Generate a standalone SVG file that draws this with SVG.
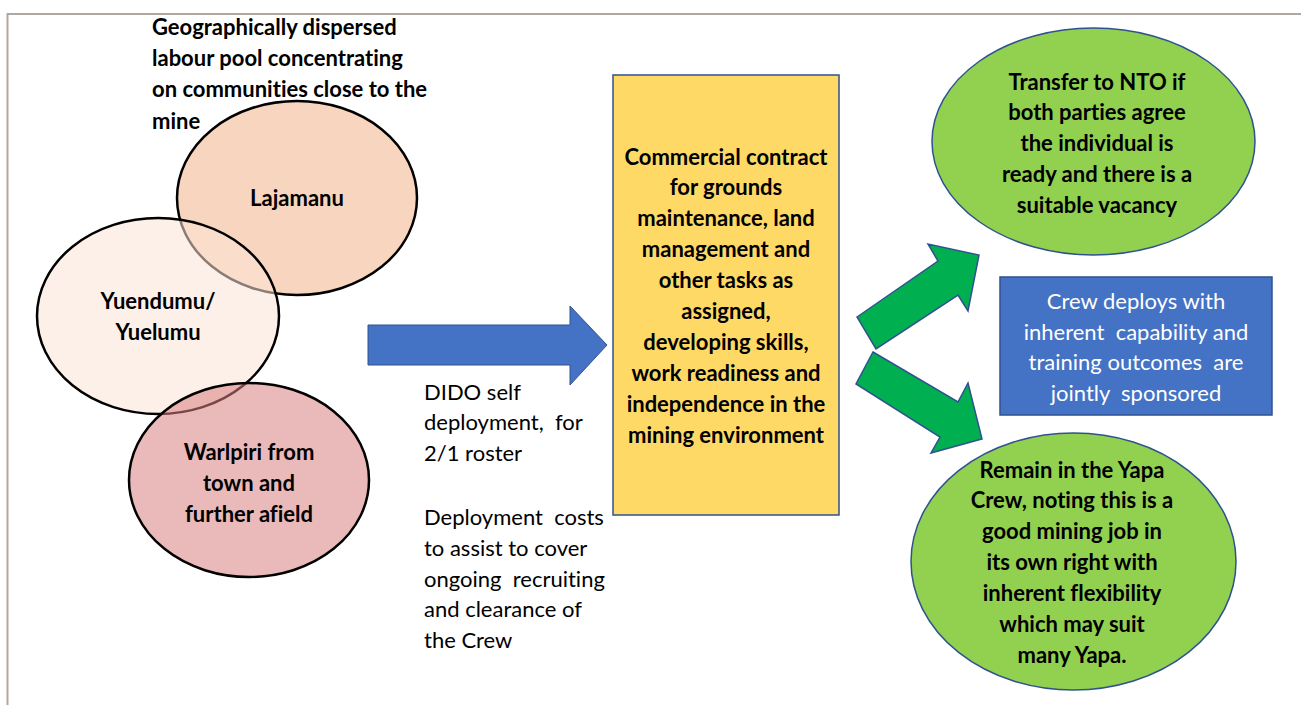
<svg xmlns="http://www.w3.org/2000/svg" width="1301" height="705" viewBox="0 0 1301 705">
<style>
text{font-family:Lato,"Liberation Sans",sans-serif;font-size:22px;font-variant-ligatures:none;white-space:pre}
.b{font-weight:bold;fill:#000;text-anchor:middle}
.bl{font-weight:bold;fill:#000}
.r{fill:#000}
.w{fill:#fff;text-anchor:middle}
.circ{stroke:#000;stroke-width:2.5}
.green{fill:#92D050;stroke:#2F528F;stroke-width:1.5}
.garrow{fill:#00B050;stroke:#2F528F;stroke-width:1.5}
</style>
<rect width="1301" height="705" fill="#fff"/>
<path d="M7.5,705 V14 H1301" fill="none" stroke="#AFA8A1" stroke-width="2"/>

<g id="title">
<text class="bl" x="152" y="35">Geographically dispersed</text>
<text class="bl" x="152" y="66">labour pool concentrating</text>
<text class="bl" x="152" y="97">on communities close to the</text>
<text class="bl" x="152" y="129">mine</text>
</g>

<g id="lajamanu">
<ellipse class="circ" cx="297" cy="198" rx="120" ry="97" fill="#F8D5BE"/>
<text class="b" x="297" y="206">Lajamanu</text>
</g>
<g id="yuendumu">
<ellipse class="circ" cx="158" cy="316" rx="121" ry="98" fill="#FCE4D6" fill-opacity="0.55"/>
<text class="b" x="158" y="309">Yuendumu/</text>
<text class="b" x="158" y="340">Yuelumu</text>
</g>
<g id="warlpiri">
<ellipse class="circ" cx="249" cy="480" rx="120" ry="97" fill="#D98080" fill-opacity="0.55"/>
<text class="b" x="249" y="460">Warlpiri from</text>
<text class="b" x="249" y="491">town and</text>
<text class="b" x="249" y="522">further afield</text>
</g>

<g id="connectors">
<polygon points="368,325 570,325 570,306 607,345 570,385 570,365 368,365" fill="#4472C4" stroke="#2F528F" stroke-width="1"/>
<polygon class="garrow" points="857,317 938,261 928,244 979,255 968,311 958,295 876,349"/>
<polygon class="garrow" points="873,352 958,402 968,383 982,439 931,453 940,437 856,384"/>
</g>

<g id="dido">
<text class="r" x="424" y="400">DIDO self</text>
<text class="r" x="424" y="430">deployment,  for</text>
<text class="r" x="424" y="461">2/1 roster</text>
<text class="r" x="424" y="525">Deployment  costs</text>
<text class="r" x="424" y="556">to assist to cover</text>
<text class="r" x="424" y="587">ongoing  recruiting</text>
<text class="r" x="424" y="617">and clearance of</text>
<text class="r" x="424" y="648">the Crew</text>
</g>

<g id="contract">
<rect x="613" y="75" width="226" height="440" fill="#FFD966" stroke="#2F528F" stroke-width="1.5"/>
<text class="b" x="726" y="165">Commercial contract</text>
<text class="b" x="726" y="195">for grounds</text>
<text class="b" x="726" y="226">maintenance, land</text>
<text class="b" x="726" y="257">management and</text>
<text class="b" x="726" y="288">other tasks as</text>
<text class="b" x="726" y="319">assigned,</text>
<text class="b" x="726" y="350">developing skills,</text>
<text class="b" x="726" y="381">work readiness and</text>
<text class="b" x="726" y="412">independence in the</text>
<text class="b" x="726" y="443">mining environment</text>
</g>

<g id="transfer">
<ellipse class="green" cx="1093.5" cy="141.5" rx="161.5" ry="113.5"/>
<text class="b" x="1097" y="90">Transfer to NTO if</text>
<text class="b" x="1097" y="120">both parties agree</text>
<text class="b" x="1097" y="151">the individual is</text>
<text class="b" x="1097" y="182">ready and there is a</text>
<text class="b" x="1097" y="213">suitable vacancy</text>
</g>

<g id="crew">
<rect x="1000" y="277" width="272" height="138" fill="#4472C4" stroke="#2F528F" stroke-width="1.5"/>
<text class="w" x="1136" y="309">Crew deploys with</text>
<text class="w" x="1136" y="340">inherent  capability and</text>
<text class="w" x="1136" y="370">training outcomes  are</text>
<text class="w" x="1136" y="401">jointly  sponsored</text>
</g>

<g id="remain">
<ellipse class="green" cx="1073.5" cy="561.5" rx="162.5" ry="128.5"/>
<text class="b" x="1072" y="478">Remain in the Yapa</text>
<text class="b" x="1072" y="508">Crew, noting this is a</text>
<text class="b" x="1072" y="539">good mining job in</text>
<text class="b" x="1072" y="570">its own right with</text>
<text class="b" x="1072" y="601">inherent flexibility</text>
<text class="b" x="1072" y="632">which may suit</text>
<text class="b" x="1072" y="663">many Yapa.</text>
</g>
</svg>
